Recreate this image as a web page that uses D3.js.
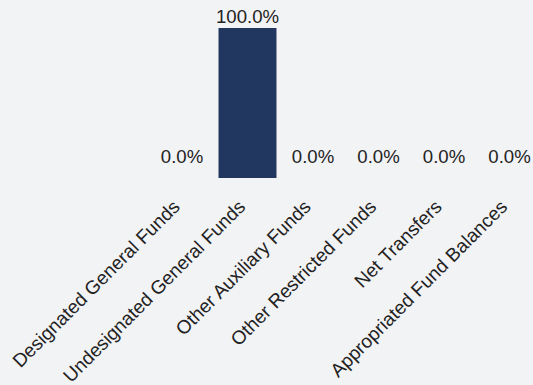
<!DOCTYPE html>
<html>
<head>
<meta charset="utf-8">
<script src="https://cdn.jsdelivr.net/npm/d3@7"></script>
<style>
  html, body { margin: 0; padding: 0; background: #f2f3f5; }
  svg { display: block; font-family: "Liberation Sans", Arial, sans-serif; }
</style>
</head>
<body>
<svg id="chart" width="533" height="385"></svg>
<script>
// Share of funding by source (percent)
const categories = [
  "Designated General Funds",
  "Undesignated General Funds",
  "Other Auxiliary Funds",
  "Other Restricted Funds",
  "Net Transfers",
  "Appropriated Fund Balances"
];
const values = [0, 100, 0, 0, 0, 0];

const svg = d3.select("#chart");

const pad = 0.115;
const x = d3.scaleBand()
  .domain(categories)
  .range([149.25, 542.25])
  .paddingInner(pad)
  .paddingOuter(pad / 2);

const y = d3.scaleLinear()
  .domain([0, 100])
  .range([178, 28]);

const data = categories.map((c, i) => ({ c, v: values[i] }));

// Bars
svg.append("g")
  .selectAll("rect")
  .data(data)
  .join("rect")
  .attr("x", d => x(d.c))
  .attr("width", x.bandwidth())
  .attr("y", d => y(d.v))
  .attr("height", d => y(0) - y(d.v))
  .attr("fill", "#21375f");

// Value labels above each bar (kept clear of the baseline for empty bars)
svg.append("g")
  .selectAll("text")
  .data(data)
  .join("text")
  .attr("x", d => x(d.c) + x.bandwidth() / 2)
  .attr("y", d => Math.min(y(d.v), y(0) - 10) - 5)
  .attr("text-anchor", "middle")
  .attr("font-size", 18.6)
  .attr("fill", "#222")
  .text(d => d3.format(".1f")(d.v) + "%");

// Category axis, rotated labels, no domain line or ticks
const axis = svg.append("g")
  .attr("transform", `translate(0,${y(0)})`)
  .call(d3.axisBottom(x).tickSize(0).tickPadding(0));
axis.select(".domain").remove();
axis.selectAll("text")
  .attr("font-size", 19)
  .attr("font-family", "Liberation Sans, Arial, sans-serif")
  .attr("fill", "#222")
  .attr("text-anchor", "end")
  .attr("y", 0)
  .attr("dy", 0)
  .attr("transform", "translate(-1,30) rotate(-45)");
</script>
</body>
</html>
